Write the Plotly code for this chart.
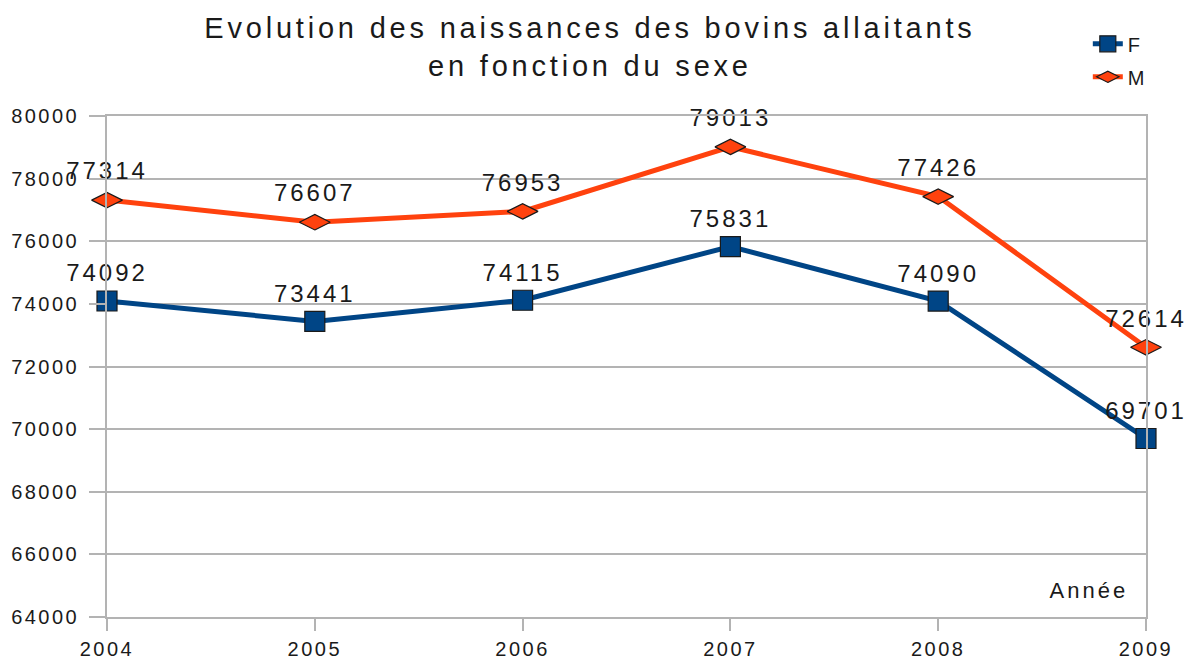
import plotly.graph_objects as go

years = [2004, 2005, 2006, 2007, 2008, 2009]
femelles = [74092, 73441, 74115, 75831, 74090, 69701]
males = [77314, 76607, 76953, 79013, 77426, 72614]
y_ticks = [64000, 66000, 68000, 70000, 72000, 74000, 76000, 78000, 80000]

FONT = "Liberation Sans, Arial, sans-serif"
GRID = "#b3b3b3"

fig = go.Figure()
fig.add_trace(go.Scatter(
    x=years, y=femelles, name="F", mode="lines+markers+text",
    line=dict(color="#004586", width=5),
    marker=dict(symbol="square", size=20, color="#004586",
                line=dict(color="#1a1a1a", width=1.2)),
    text=[str(v) for v in femelles], textposition="top center",
    textfont=dict(family=FONT, size=24, color="#1a1a1a"),
    cliponaxis=False, legendgroup="F",
))
fig.add_trace(go.Scatter(
    x=years, y=males, name="M", mode="lines+markers+text",
    line=dict(color="#ff420e", width=5),
    marker=dict(symbol="diamond-wide", size=22, color="#ff420e",
                line=dict(color="#1a1a1a", width=1.2)),
    text=[str(v) for v in males], textposition="top center",
    textfont=dict(family=FONT, size=24, color="#1a1a1a"),
    cliponaxis=False, legendgroup="M",
))

fig.update_layout(
    width=1187, height=659,
    margin=dict(l=107, r=41, t=116, b=42, autoexpand=False),
    paper_bgcolor="white", plot_bgcolor="white",
    font=dict(family=FONT, color="#1a1a1a"),
    title=dict(text="Evolution des naissances des bovins allaitants<br>en fonction du sexe",
               x=0.497, xanchor="center", y=0.942, yanchor="top",
               font=dict(size=29, color="#1a1a1a")),
    legend=dict(x=0.944, xanchor="left", y=1.183, yanchor="top",
                font=dict(size=20), bgcolor="rgba(0,0,0,0)",
                tracegroupgap=4, traceorder="grouped"),
    showlegend=True,
)
fig.update_xaxes(
    range=[2004, 2009], tickvals=years, ticktext=[str(y) for y in years],
    showgrid=False, showline=True, linecolor=GRID, linewidth=1.5, mirror=True,
    ticks="outside", ticklen=12, tickcolor=GRID, tickwidth=1.5,
    tickfont=dict(size=20, color="#1a1a1a"), zeroline=False,
    automargin=False, ticklabelstandoff=1,
)
fig.update_yaxes(
    range=[64000, 80000], tickvals=y_ticks, ticktext=[str(v) for v in y_ticks],
    showgrid=True, gridcolor=GRID, gridwidth=1.5,
    showline=True, linecolor=GRID, linewidth=1.5, mirror=True,
    ticks="outside", ticklen=16, tickcolor=GRID, tickwidth=1.5,
    tickfont=dict(size=20, color="#1a1a1a"), zeroline=False,
    automargin=False, ticklabelstandoff=6,
)
fig.add_annotation(text="Année", xref="paper", yref="paper", x=0.978, y=0.052,
                   xanchor="right", yanchor="middle", showarrow=False,
                   font=dict(size=22, color="#1a1a1a"))

post = """
document.body.style.margin = '0';
var gd = document.getElementById('{plot_id}');
function ls(){
  gd.querySelectorAll('text').forEach(function(t){
    var fs = parseFloat(t.style.fontSize) || 12;
    t.style.letterSpacing = (fs >= 28 ? '3.8px' : (fs >= 22 ? '3px' : '2.5px'));
  });
}
ls();
if (gd.on) { gd.on('plotly_afterplot', ls); }
"""
fig.write_html("out.html", post_script=post, config={"displayModeBar": False})
